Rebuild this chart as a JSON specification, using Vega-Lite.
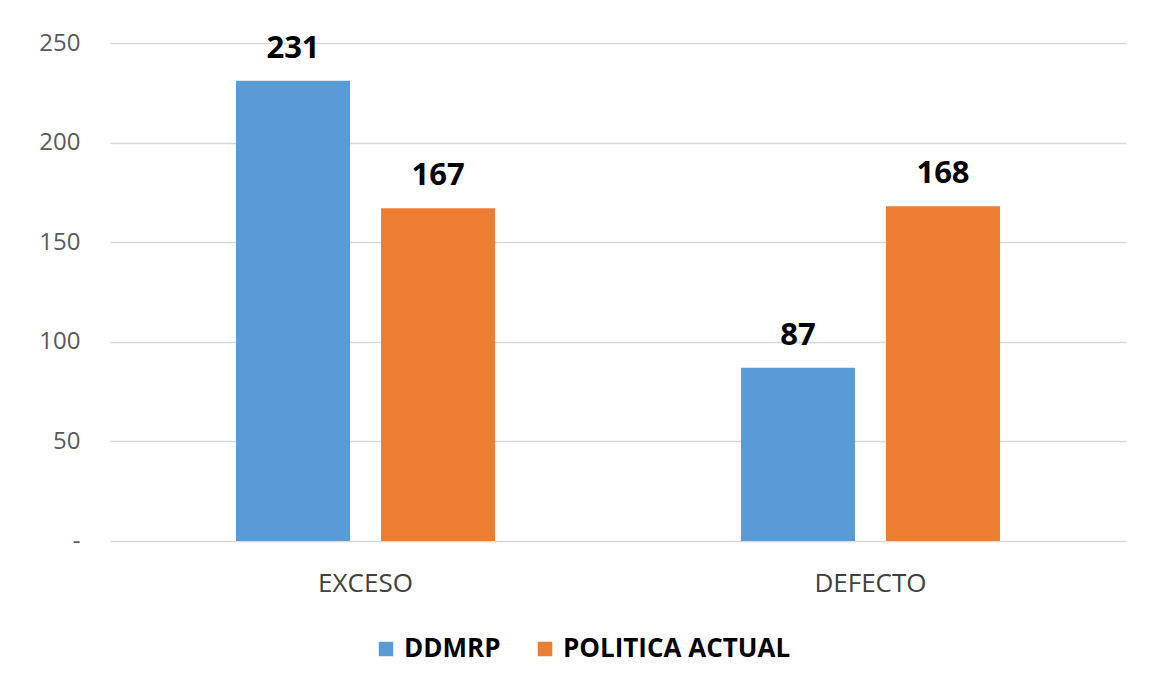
{
  "$schema": "https://vega.github.io/schema/vega-lite/v6.json",
  "width": 1016,
  "height": 498,
  "autosize": {"type": "none"},
  "padding": {"left": 110, "top": 43, "right": 32, "bottom": 153},
  "background": "white",
  "config": {
    "font": "Open Sans",
    "view": {"stroke": null}
  },
  "data": {
    "values": [
      {"categoria": "EXCESO", "serie": "DDMRP", "valor": 231},
      {"categoria": "EXCESO", "serie": "POLITICA ACTUAL", "valor": 167},
      {"categoria": "DEFECTO", "serie": "DDMRP", "valor": 87},
      {"categoria": "DEFECTO", "serie": "POLITICA ACTUAL", "valor": 168}
    ]
  },
  "encoding": {
    "x": {
      "field": "categoria",
      "type": "nominal",
      "sort": ["EXCESO", "DEFECTO"],
      "scale": {"paddingInner": 0, "paddingOuter": 0.006},
      "axis": {
        "title": null,
        "labelAngle": 0,
        "domain": false,
        "ticks": false,
        "labelPadding": 29,
        "labelFontSize": 26,
        "labelColor": "#404040",
        "labelFont": "Open Sans"
      }
    },
    "xOffset": {
      "field": "serie",
      "type": "nominal",
      "sort": ["DDMRP", "POLITICA ACTUAL"],
      "scale": {"paddingInner": 0.214, "paddingOuter": 0.848}
    },
    "y": {
      "field": "valor",
      "type": "quantitative",
      "scale": {"domain": [0, 250], "nice": false},
      "axis": {
        "title": null,
        "values": [0, 50, 100, 150, 200, 250],
        "labelExpr": "datum.value === 0 ? '-' : datum.label",
        "domain": false,
        "ticks": false,
        "labelPadding": 30,
        "labelFontSize": 24,
        "labelColor": "#595959",
        "labelFont": "Open Sans",
        "gridColor": "#d9d9d9",
        "gridWidth": 1.5
      }
    }
  },
  "layer": [
    {
      "mark": {"type": "bar"},
      "encoding": {
        "color": {
          "field": "serie",
          "type": "nominal",
          "sort": ["DDMRP", "POLITICA ACTUAL"],
          "scale": {"domain": ["DDMRP", "POLITICA ACTUAL"], "range": ["#5B9BD5", "#ED7D31"]},
          "legend": {
            "title": null,
            "orient": "none",
            "direction": "horizontal",
            "legendX": 263,
            "legendY": 593,
            "symbolType": "square",
            "symbolSize": 210,
            "symbolStrokeWidth": 0,
            "labelFontSize": 26,
            "labelFontWeight": "bold",
            "labelColor": "#000000",
            "labelFont": "Open Sans",
            "labelLimit": 500,
            "labelOffset": 5,
            "columnPadding": 31
          }
        }
      }
    },
    {
      "mark": {
        "type": "text",
        "baseline": "alphabetic",
        "dy": -23,
        "fontSize": 31,
        "fontWeight": "bold",
        "color": "#000000",
        "font": "Open Sans"
      },
      "encoding": {
        "text": {"field": "valor", "type": "quantitative"}
      }
    }
  ]
}
